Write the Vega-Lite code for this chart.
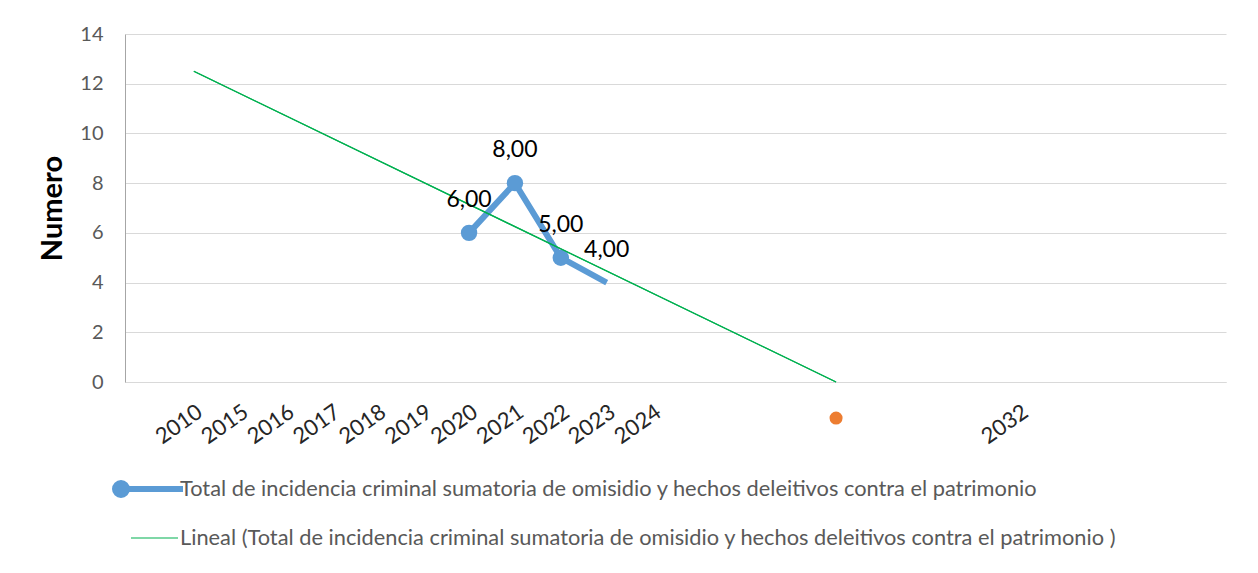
{
  "$schema": "https://vega.github.io/schema/vega-lite/v6.json",
  "autosize": {"type": "none"},
  "width": 1101,
  "height": 348,
  "padding": {"left": 125, "top": 34, "right": 32, "bottom": 191},
  "background": "#ffffff",
  "config": {
    "view": {"stroke": null},
    "font": "Lato",
    "locale": {"number": {"decimal": ",", "thousands": ".", "grouping": [3], "currency": ["", " €"]}}
  },
  "data": {
    "values": [
      {"year": "2020", "value": 6, "series": "Total de incidencia criminal sumatoria de omisidio y hechos deleitivos contra el patrimonio"},
      {"year": "2021", "value": 8, "series": "Total de incidencia criminal sumatoria de omisidio y hechos deleitivos contra el patrimonio"},
      {"year": "2022", "value": 5, "series": "Total de incidencia criminal sumatoria de omisidio y hechos deleitivos contra el patrimonio"},
      {"year": "2023", "value": 4, "series": "Total de incidencia criminal sumatoria de omisidio y hechos deleitivos contra el patrimonio"},
      {"year": "2010", "value": 12.5, "series": "Lineal (Total de incidencia criminal sumatoria de omisidio y hechos deleitivos contra el patrimonio )"},
      {"year": "b15", "value": 0, "series": "Lineal (Total de incidencia criminal sumatoria de omisidio y hechos deleitivos contra el patrimonio )"},
      {"year": "b15", "value": -1.45, "series": "punto"}
    ]
  },
  "encoding": {
    "x": {
      "field": "year",
      "type": "ordinal",
      "sort": null,
      "scale": {
        "type": "point",
        "padding": 0.5,
        "domain": ["b0", "2010", "2015", "2016", "2017", "2018", "2019", "2020", "2021", "2022", "2023", "2024", "b12", "b13", "b14", "b15", "b16", "b17", "b18", "2032", "b20", "b21", "b22", "b23"]
      },
      "axis": {
        "title": null,
        "labelExpr": "indexof(datum.label, 'b') === 0 ? '' : datum.label",
        "labelAngle": -35,
        "labelAlign": "right",
        "labelBaseline": "top",
        "labelPadding": 19,
        "labelDx": -9,
        "labelFontSize": 22,
        "labelColor": "#262626",
        "ticks": false,
        "domainColor": "#d9d9d9",
        "domainWidth": 1,
        "grid": false
      }
    },
    "y": {
      "field": "value",
      "type": "quantitative",
      "scale": {"domain": [0, 14], "nice": false, "zero": false},
      "axis": {
        "title": "Numero",
        "titleFontSize": 29,
        "titleFontWeight": "bold",
        "titleColor": "#000000",
        "titlePadding": 12,
        "values": [0, 2, 4, 6, 8, 10, 12, 14],
        "labelFontSize": 20,
        "labelColor": "#595959",
        "labelPadding": 22,
        "ticks": false,
        "domainColor": "#a6a6a6",
        "gridColor": "#d9d9d9",
        "gridWidth": 1
      }
    }
  },
  "layer": [
    {
      "transform": [{"filter": "datum.series !== 'punto'"}],
      "mark": {"type": "line", "strokeJoin": "round"},
      "encoding": {
        "color": {
          "field": "series",
          "type": "nominal",
          "scale": {
            "domain": ["Total de incidencia criminal sumatoria de omisidio y hechos deleitivos contra el patrimonio", "Lineal (Total de incidencia criminal sumatoria de omisidio y hechos deleitivos contra el patrimonio )"],
            "range": ["#5B9BD5", "#00B050"]
          },
          "legend": {
            "title": null,
            "orient": "none",
            "direction": "vertical",
            "legendX": 14,
            "legendY": 442,
            "padding": 0,
            "symbolSize": 400,
            "labelFontSize": 21.8,
            "labelColor": "#595959",
            "labelLimit": 2000,
            "labelOffset": 15,
            "rowPadding": 20,
            "encode": {
              "symbols": {
                "update": {
                  "shape": {"signal": "indexof(datum.value, 'Lineal') === 0 ? 'M-2.1,0 L2.6,0' : 'M-3.1,0 L3.1,0 M-3.7,0 A0.6,0.6 0 1,0 -2.5,0 A0.6,0.6 0 1,0 -3.7,0 Z'"},
                  "strokeWidth": {"signal": "indexof(datum.value, 'Lineal') === 0 ? 1.2 : 5"},
                  "fill": {"signal": "indexof(datum.value, 'Lineal') === 0 ? 'transparent' : '#5B9BD5'"},
                  "fillOpacity": {"value": 1}
                }
              }
            }
          }
        },
        "strokeWidth": {
          "field": "series",
          "type": "nominal",
          "scale": {
            "domain": ["Total de incidencia criminal sumatoria de omisidio y hechos deleitivos contra el patrimonio", "Lineal (Total de incidencia criminal sumatoria de omisidio y hechos deleitivos contra el patrimonio )"],
            "range": [6, 1.2]
          },
          "legend": null
        }
      }
    },
    {
      "transform": [{"filter": "indexof(datum.series, 'Total') === 0 && datum.year !== '2023'"}],
      "mark": {"type": "point", "filled": true, "size": 270, "opacity": 1, "color": "#5B9BD5"}
    },
    {
      "transform": [{"filter": "indexof(datum.series, 'Lineal') === 0"}],
      "mark": {"type": "line", "color": "#00B050", "strokeWidth": 1.2},
      "encoding": {}
    },
    {
      "transform": [{"filter": "indexof(datum.series, 'Total') === 0"}],
      "mark": {"type": "text", "dy": -33, "fontSize": 23, "color": "#000000"},
      "encoding": {"text": {"field": "value", "type": "quantitative", "format": ".2f"}}
    },
    {
      "transform": [{"filter": "datum.series === 'punto'"}],
      "mark": {"type": "point", "filled": true, "size": 170, "opacity": 1, "color": "#ED7D31"}
    }
  ]
}
